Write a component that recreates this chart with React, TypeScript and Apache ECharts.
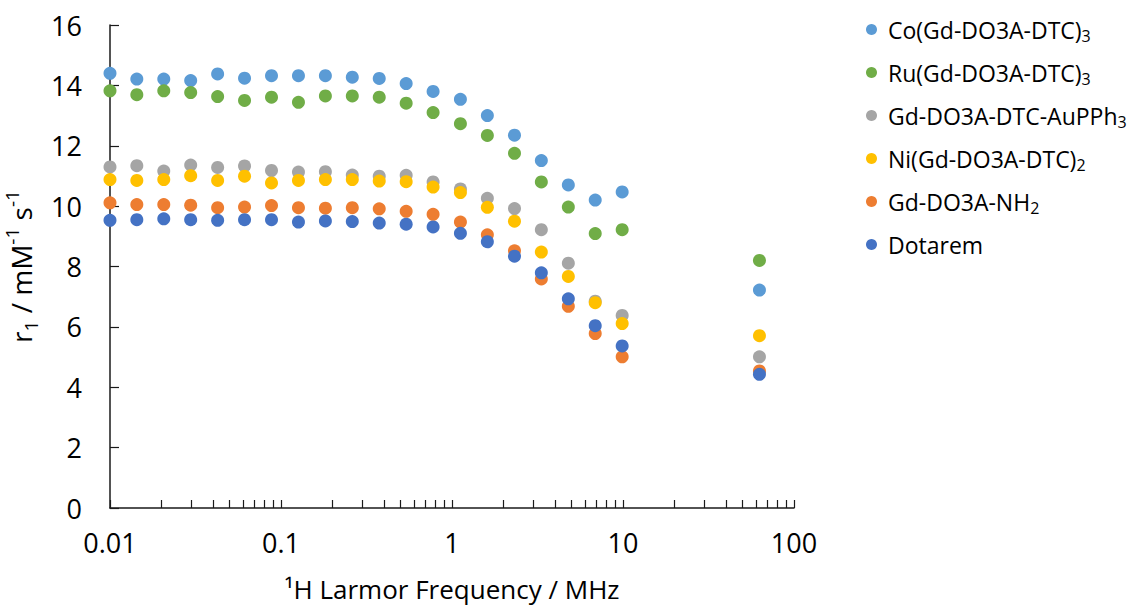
import React, { useEffect, useRef } from "react";
import * as echarts from "echarts";

const FONT = "'Open Sans', 'Noto Sans', sans-serif";

const freqMHz = [0.01, 0.01435, 0.02063, 0.02964, 0.0426, 0.0612, 0.088, 0.1265, 0.1818, 0.2612, 0.3754, 0.5395, 0.7753, 1.12, 1.61, 2.32, 3.33, 4.79, 6.88, 9.89, 62.8];

const coVals = [14.40, 14.21, 14.21, 14.16, 14.38, 14.24, 14.32, 14.32, 14.32, 14.27, 14.23, 14.06, 13.80, 13.54, 13.00, 12.35, 11.51, 10.70, 10.20, 10.47, 7.22];
const ruVals = [13.82, 13.69, 13.82, 13.76, 13.63, 13.50, 13.61, 13.44, 13.65, 13.65, 13.61, 13.41, 13.10, 12.73, 12.34, 11.75, 10.80, 9.97, 9.09, 9.22, 8.20];
const auVals = [11.30, 11.34, 11.16, 11.36, 11.28, 11.33, 11.18, 11.13, 11.14, 11.03, 10.99, 11.02, 10.80, 10.57, 10.26, 9.92, 9.22, 8.11, 6.85, 6.38, 5.01];
const niVals = [10.88, 10.85, 10.88, 11.01, 10.85, 10.99, 10.77, 10.85, 10.88, 10.88, 10.83, 10.81, 10.63, 10.45, 9.96, 9.50, 8.48, 7.67, 6.80, 6.11, 5.71];
const nh2Vals = [10.11, 10.05, 10.05, 10.03, 9.95, 9.97, 10.02, 9.95, 9.93, 9.95, 9.91, 9.83, 9.73, 9.47, 9.05, 8.52, 7.59, 6.68, 5.78, 5.01, 4.54];
const dotaremVals = [9.53, 9.55, 9.58, 9.55, 9.53, 9.55, 9.55, 9.47, 9.51, 9.49, 9.44, 9.40, 9.31, 9.10, 8.82, 8.34, 7.79, 6.93, 6.04, 5.37, 4.43];

const seriesMain = ["Co(Gd-DO3A-DTC)", "Ru(Gd-DO3A-DTC)", "Gd-DO3A-DTC-AuPPh", "Ni(Gd-DO3A-DTC)", "Gd-DO3A-NH", "Dotarem"];
const seriesSub = ["3", "3", "3", "2", "2", ""];
const seriesColors = ["#5B9BD5", "#70AD47", "#A5A5A5", "#FFC000", "#ED7D31", "#4472C4"];
const seriesValues = [coVals, ruVals, auVals, niVals, nh2Vals, dotaremVals];

const xTickValues = [0.01, 0.02, 0.03, 0.04, 0.05, 0.06, 0.07, 0.08, 0.09, 0.1, 0.2, 0.3, 0.4, 0.5, 0.6, 0.7, 0.8, 0.9, 1, 2, 3, 4, 5, 6, 7, 8, 9, 10, 20, 30, 40, 50, 60, 70, 80, 90, 100];

export default function App() {
  const ref = useRef<HTMLDivElement>(null);
  useEffect(() => {
    if (!ref.current) return;
    const chart = echarts.init(ref.current, null, { renderer: "svg" });
    const names = seriesMain.map((m, i) => m + seriesSub[i]);
    const option: any = {
      animation: false,
      backgroundColor: "#ffffff",
      textStyle: { fontFamily: FONT },
      grid: { left: 110, right: 335, top: 25, bottom: 99, containLabel: false, outerBoundsMode: "none" },
      legend: {
        orient: "vertical",
        left: 861,
        top: 13,
        itemWidth: 11,
        itemHeight: 11,
        itemGap: 17.5,
        icon: "circle",
        data: names,
        formatter: (name: string) => {
          const i = names.indexOf(name);
          const sub = seriesSub[i];
          return sub ? `{a|${seriesMain[i]}}{s|${sub}}` : `{a|${seriesMain[i]}}`;
        },
        textStyle: {
          padding: [0, 0, 0, 6],
          rich: {
            a: { fontFamily: FONT, fontSize: 23, color: "#000", lineHeight: 28 },
            s: { fontFamily: FONT, fontSize: 16, color: "#000", lineHeight: 16, verticalAlign: "bottom" },
          },
        },
      },
      xAxis: {
        type: "log",
        logBase: 10,
        min: 0.01,
        max: 100,
        name: "¹H Larmor Frequency / MHz",
        nameLocation: "middle",
        nameGap: 67,
        nameTextStyle: { fontFamily: FONT, fontSize: 26, color: "#000", lineHeight: 28 },
        axisLine: { lineStyle: { color: "#1a1a1a", width: 1.5 } },
        axisTick: { show: true, inside: true, length: 8, customValues: xTickValues, lineStyle: { color: "#1a1a1a", width: 1.2 } },
        axisLabel: {
          fontFamily: FONT,
          fontSize: 27,
          color: "#000",
          margin: 21,
          formatter: (v: number) => String(Number(v.toPrecision(3))),
        },
        splitLine: { show: false },
        minorTick: { show: false },
      },
      yAxis: {
        type: "value",
        min: 0,
        max: 16,
        interval: 2,
        name: "{b|r}{sub|1}{b| / mM}{sup|-1}{b| s}{sup|-1}",
        nameLocation: "middle",
        nameGap: 66,
        nameRotate: 90,
        nameTextStyle: {
          rich: {
            b: { fontFamily: FONT, fontSize: 28, color: "#000", lineHeight: 38 },
            sub: { fontFamily: FONT, fontSize: 19, color: "#000", lineHeight: 19, verticalAlign: "bottom" },
            sup: { fontFamily: FONT, fontSize: 19, color: "#000", lineHeight: 19, verticalAlign: "top" },
          },
        },
        axisLine: { show: true, lineStyle: { color: "#1a1a1a", width: 1.5 } },
        axisTick: { show: true, inside: true, length: 9, lineStyle: { color: "#1a1a1a", width: 1.2 } },
        axisLabel: { fontFamily: FONT, fontSize: 27, color: "#000", margin: 28 },
        splitLine: { show: false },
      },
      series: seriesValues.map((vals, i) => ({
        name: names[i],
        type: "scatter",
        symbol: "circle",
        symbolSize: 13,
        itemStyle: { color: seriesColors[i], opacity: 1 },
        data: vals.map((v, j) => [freqMHz[j], v]),
        z: 2 + i,
      })),
    };
    chart.setOption(option);
    return () => chart.dispose();
  }, []);
  return (
    <div
      ref={ref}
      style={{ position: "fixed", left: 0, top: 0, width: 1129, height: 607, background: "#fff" }}
    />
  );
}
